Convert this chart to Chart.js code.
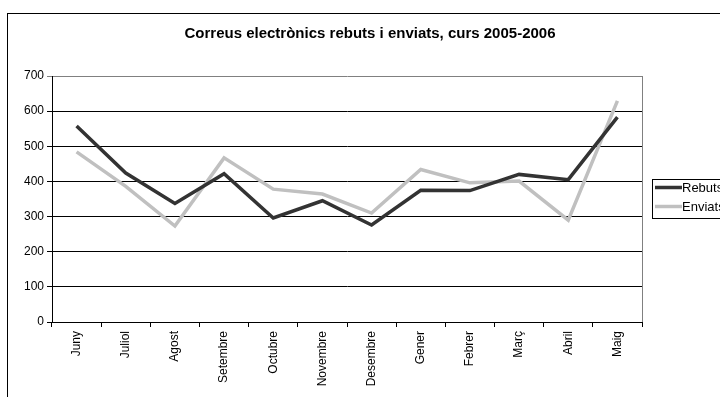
<!DOCTYPE html>
<html>
<head>
<meta charset="utf-8">
<script src="https://cdn.jsdelivr.net/npm/chart.js@4.4.0/dist/chart.umd.min.js"></script>
<style>
  html, body { margin: 0; padding: 0; background: #fff; }
  #wrap { width: 720px; height: 397px; }
</style>
</head>
<body>
<div id="wrap"><canvas id="c" width="720" height="397"></canvas></div>
<script>
const chartTitle = 'Correus electrònics rebuts i enviats, curs 2005-2006';
const months = ['Juny', 'Juliol', 'Agost', 'Setembre', 'Octubre', 'Novembre', 'Desembre', 'Gener', 'Febrer', 'Març', 'Abril', 'Maig'];
const rebuts = [558, 424, 337, 422, 296, 345, 276, 375, 374, 420, 405, 583];
const enviats = [484, 386, 273, 467, 378, 364, 310, 434, 396, 401, 290, 629];
const yTicks = [0, 100, 200, 300, 400, 500, 600, 700];

const FONT = 'Liberation Sans, Arial, sans-serif';

// frame, title, right border and legend drawn by hand (excel look)
const decor = {
  id: 'decor',
  beforeDraw(chart) {
    const c = chart.ctx;
    c.save();
    c.fillStyle = '#fff';
    c.fillRect(0, 0, chart.width, chart.height);
    c.strokeStyle = '#000';
    c.lineWidth = 1;
    c.strokeRect(7.5, 13.5, 760, 420);
    c.fillStyle = '#000';
    c.font = 'bold 15px ' + FONT;
    c.textAlign = 'center';
    c.textBaseline = 'middle';
    c.fillText(chartTitle, 370, 34);
    c.restore();
  },
  afterDraw(chart) {
    const c = chart.ctx;
    const a = chart.chartArea;
    c.save();
    c.strokeStyle = '#808080';
    c.lineWidth = 1;
    c.beginPath();
    c.moveTo(Math.round(a.right) + 0.5, a.top);
    c.lineTo(Math.round(a.right) + 0.5, a.bottom);
    c.stroke();

    // legend
    c.strokeStyle = '#000';
    c.strokeRect(652.5, 179.5, 100, 39);
    c.font = '13px ' + FONT;
    c.textBaseline = 'middle';
    c.textAlign = 'left';
    chart.data.datasets.forEach((ds, i) => {
      const y = 187.5 + i * 19;
      c.strokeStyle = ds.borderColor;
      c.lineWidth = 3.5;
      c.beginPath();
      c.moveTo(655, y);
      c.lineTo(682, y);
      c.stroke();
      c.fillStyle = '#000';
      c.fillText(ds.label, 682, y + 1);
    });
    c.restore();
  }
};

new Chart(document.getElementById('c'), {
  type: 'line',
  data: {
    labels: months,
    datasets: [
      { label: 'Rebuts', data: rebuts, borderColor: '#333333', borderWidth: 3.5, pointRadius: 0, tension: 0 },
      { label: 'Enviats', data: enviats, borderColor: '#c0c0c0', borderWidth: 3.5, pointRadius: 0, tension: 0 }
    ]
  },
  options: {
    responsive: false,
    animation: false,
    layout: { padding: { left: 0, top: 76, right: 78, bottom: 0 } },
    plugins: { legend: { display: false }, title: { display: false }, tooltip: { enabled: false } },
    scales: {
      x: {
        offset: true,
        grid: { offset: true, drawOnChartArea: false, drawTicks: true, tickLength: 5, color: '#000' },
        border: { color: '#000', width: 1 },
        ticks: { minRotation: 90, maxRotation: 90, color: '#000', font: { family: FONT, size: 12 }, padding: 4 },
        afterFit(s) { s.height = 75; }
      },
      y: {
        min: 0, max: 700,
        afterBuildTicks(s) { s.ticks = yTicks.map(v => ({ value: v })); },
        grid: {
          color: ctx => (ctx.tick && ctx.tick.value === 700 ? '#808080' : '#000'),
          tickLength: 5, lineWidth: 1
        },
        border: { color: '#000', width: 1 },
        ticks: { color: '#000', font: { family: FONT, size: 12 }, padding: 3 },
        afterFit(s) { s.width = 52; }
      }
    }
  },
  plugins: [decor]
});
</script>
</body>
</html>
